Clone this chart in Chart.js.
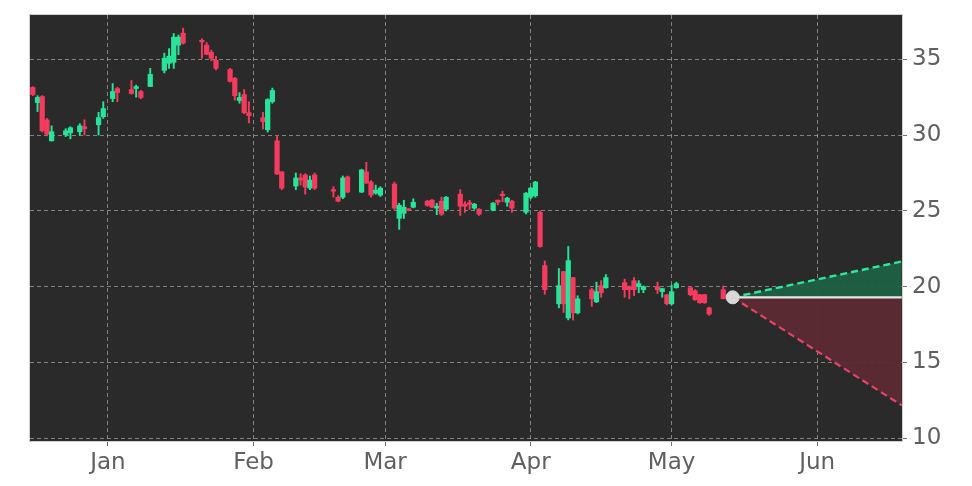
<!DOCTYPE html>
<html>
<head>
<meta charset="utf-8">
<script src="https://cdn.jsdelivr.net/npm/chart.js@4.4.1/dist/chart.umd.min.js"></script>
<style>
html,body{margin:0;padding:0;background:#ffffff;}
#wrap{width:972px;height:486px;}
</style>
</head>
<body>
<div id="wrap"><canvas id="c" width="972" height="486"></canvas></div>
<script>
const dates = ['2024-12-16','2024-12-17','2024-12-18','2024-12-19','2024-12-20',
'2024-12-23','2024-12-24','2024-12-26','2024-12-27',
'2024-12-30','2024-12-31','2025-01-02','2025-01-03',
'2025-01-06','2025-01-07','2025-01-08','2025-01-10',
'2025-01-13','2025-01-14','2025-01-15','2025-01-16','2025-01-17',
'2025-01-21','2025-01-22','2025-01-23','2025-01-24',
'2025-01-27','2025-01-28','2025-01-29','2025-01-30','2025-01-31',
'2025-02-03','2025-02-04','2025-02-05','2025-02-06','2025-02-07',
'2025-02-10','2025-02-11','2025-02-12','2025-02-13','2025-02-14',
'2025-02-18','2025-02-19','2025-02-20','2025-02-21',
'2025-02-24','2025-02-25','2025-02-26','2025-02-27','2025-02-28',
'2025-03-03','2025-03-04','2025-03-05','2025-03-06','2025-03-07',
'2025-03-10','2025-03-11','2025-03-12','2025-03-13','2025-03-14',
'2025-03-17','2025-03-18','2025-03-19','2025-03-20','2025-03-21',
'2025-03-24','2025-03-25','2025-03-26','2025-03-27','2025-03-28',
'2025-03-31','2025-04-01','2025-04-02','2025-04-03','2025-04-04',
'2025-04-07','2025-04-08','2025-04-09','2025-04-10','2025-04-11',
'2025-04-14','2025-04-15','2025-04-16','2025-04-17',
'2025-04-21','2025-04-22','2025-04-23','2025-04-24','2025-04-25',
'2025-04-28','2025-04-29','2025-04-30','2025-05-01','2025-05-02',
'2025-05-05','2025-05-06','2025-05-07','2025-05-08','2025-05-09',
'2025-05-12'];
const opens = [33.14,32.14,32.54,31.00,29.62,
30.02,30.15,30.22,30.55,
30.68,31.21,32.41,33.07,
33.00,33.07,32.87,33.20,
34.27,34.73,34.80,35.93,36.72,
36.20,35.93,35.46,34.93,
34.33,33.74,32.28,32.67,31.48,
31.15,30.35,32.21,29.62,27.57,
26.64,27.17,27.37,26.50,27.37,
26.37,25.90,25.90,27.24,
26.24,27.57,26.90,26.17,26.04,
26.77,24.51,24.84,25.11,25.24,
25.64,25.71,25.18,25.64,25.11,
26.10,25.44,25.51,25.18,25.11,
25.04,25.71,26.07,25.57,25.64,
24.91,25.90,26.00,24.91,21.39,
18.87,21.00,17.94,20.60,18.27,
19.80,19.00,20.07,19.93,
20.27,20.00,20.40,20.00,19.80,
20.00,19.67,19.47,18.87,19.93,
19.93,19.73,19.47,19.47,18.60,
19.80];
const highs = [33.20,32.60,32.60,31.10,30.61,
30.42,30.55,30.75,31.00,
31.50,32.20,33.40,33.15,
33.60,33.30,32.95,34.40,
35.40,35.70,36.70,36.60,37.05,
36.35,36.10,35.60,35.20,
34.40,33.80,32.80,33.00,32.20,
31.50,32.40,33.10,29.95,27.60,
27.50,27.45,27.45,27.30,27.50,
26.60,26.00,27.30,27.30,
27.75,28.20,27.00,26.70,26.60,
26.90,25.50,25.70,25.15,25.80,
25.70,25.75,25.50,25.90,25.95,
26.40,25.60,25.70,25.50,25.15,
25.55,25.71,26.30,25.90,25.70,
26.20,26.55,26.95,25.00,21.70,
21.20,21.00,22.65,20.60,19.40,
19.90,20.30,20.40,20.80,
20.50,20.05,20.60,20.40,20.05,
20.30,19.90,19.50,20.10,20.30,
20.00,19.80,19.50,19.50,18.65,
20.05];
const lows = [32.60,31.55,30.20,29.95,29.60,
29.90,29.75,30.00,30.00,
30.00,31.10,32.20,32.20,
32.70,32.50,32.40,33.20,
34.10,34.40,34.40,35.30,36.00,
35.07,35.30,34.90,34.30,
33.50,32.30,32.10,31.40,30.80,
30.40,30.20,32.10,27.40,26.40,
26.40,26.70,26.10,26.40,26.40,
25.90,25.60,25.80,26.20,
26.20,26.80,25.90,26.10,25.95,
25.10,23.78,24.50,25.00,25.20,
25.30,25.20,24.75,24.70,25.00,
24.70,24.90,25.10,25.10,24.70,
25.00,25.40,25.60,25.30,24.90,
24.80,25.80,25.90,22.60,19.50,
18.60,18.30,17.81,17.80,18.20,
18.70,18.95,19.30,19.90,
19.30,19.20,19.40,19.60,19.60,
19.55,19.30,18.80,18.80,19.90,
19.40,19.10,18.90,18.90,18.10,
19.20];
const closes = [32.67,32.48,30.28,30.05,30.22,
30.28,30.48,30.61,30.42,
31.15,31.75,32.87,32.80,
32.74,33.20,32.48,34.00,
35.07,35.20,36.46,36.46,36.06,
36.15,35.33,35.07,34.40,
33.54,32.60,32.48,31.48,31.28,
30.88,32.34,32.94,27.43,26.50,
27.17,27.03,26.57,27.03,26.50,
26.30,25.64,27.17,26.24,
27.70,26.83,26.04,26.37,26.50,
25.18,25.37,25.24,25.04,25.57,
25.37,25.24,25.31,24.78,25.90,
25.31,25.31,25.44,25.44,24.78,
25.51,25.57,26.00,25.84,25.18,
26.17,26.50,26.90,22.65,19.80,
20.07,18.87,21.72,18.27,19.20,
19.20,19.67,19.60,20.60,
19.80,19.80,19.80,20.20,20.00,
19.80,19.87,18.87,19.67,20.20,
19.47,19.14,18.94,18.94,18.20,
19.20];
// projection cone
const projDates = ['2025-05-14','2025-06-19'];
const projBase  = [19.30, 19.30];
const projUpper = [19.30, 21.66];
const projLower = [19.30, 12.17];
// axis ticks
const yTicks = [10, 15, 20, 25, 30, 35];
const monthTickDates = ['2025-01-01','2025-02-01','2025-03-01','2025-04-01','2025-05-01','2025-06-01'];
const monthLabels = ['Jan','Feb','Mar','Apr','May','Jun'];

const DAY = 86400000;
const ORIGIN = Date.UTC(2025,0,1);
function dayNum(s){ const p=s.split('-').map(Number); return (Date.UTC(p[0],p[1]-1,p[2])-ORIGIN)/DAY; }

const UP = '#27e49a', DOWN = '#f23b5d';
const xs = dates.map(dayNum);
const colors = opens.map((o,i)=> closes[i] >= o ? UP : DOWN);
const bodyData = xs.map((x,i)=>({x:x, y:[opens[i], closes[i]]}));
const wickData = xs.map((x,i)=>({x:x, y:[lows[i], highs[i]]}));
const px = projDates.map(dayNum);
const baseData  = px.map((x,i)=>({x:x, y:projBase[i]}));
const upperData = px.map((x,i)=>({x:x, y:projUpper[i]}));
const lowerData = px.map((x,i)=>({x:x, y:projLower[i]}));
const monthTicks = monthTickDates.map(dayNum);

const bgPlugin = {
  id:'bg',
  beforeDraw(chart){
    const {ctx, chartArea:a} = chart;
    ctx.save();
    ctx.fillStyle = '#2a2a2a';
    ctx.fillRect(a.left, a.top, a.right-a.left, a.bottom-a.top);
    ctx.restore();
  },
  afterDraw(chart){
    const {ctx, chartArea:a} = chart;
    ctx.save();
    ctx.strokeStyle = '#d0d0d0';
    ctx.lineWidth = 1;
    ctx.strokeRect(a.left-0.5, a.top-0.5, a.right-a.left+1, a.bottom-a.top+1);
    ctx.restore();
  }
};

new Chart(document.getElementById('c'), {
  data: {
    datasets: [
      {type:'line', label:'base', data: baseData, borderColor:'#e6e6e6', borderWidth:2.2, pointRadius:0, fill:false, order:3},
      {type:'line', label:'upper', data: upperData, borderColor:'#2ee6a0', borderWidth:2.4, borderDash:[7,4], pointRadius:0,
        fill:{target:0, above:'rgba(31,96,68,0.95)', below:'rgba(31,96,68,0.95)'}, backgroundColor:'rgba(31,96,68,0.95)', order:4},
      {type:'line', label:'lower', data: lowerData, borderColor:'#e8416b', borderWidth:2.2, borderDash:[7,4], pointRadius:0,
        fill:{target:0, above:'rgba(92,42,50,0.95)', below:'rgba(92,42,50,0.95)'}, backgroundColor:'rgba(92,42,50,0.95)', order:4},
      {type:'bar', label:'wick', data: wickData, backgroundColor: colors, borderWidth:0, barThickness:1.3, grouped:false, order:2},
      {type:'bar', label:'body', data: bodyData, backgroundColor: colors, borderWidth:0, barThickness:4.6, minBarLength:1.5, grouped:false, order:1},
      {type:'scatter', label:'last', data:[baseData[0]], backgroundColor:'#d8d8d8', borderColor:'#d8d8d8', pointRadius:6.5, pointHoverRadius:6.5, order:0}
    ]
  },
  options: {
    responsive:false,
    animation:false,
    devicePixelRatio:1,
    layout:{padding:{left:30, top:15, right:0, bottom:0}},
    plugins:{legend:{display:false}, tooltip:{enabled:false}},
    scales:{
      x:{
        type:'linear', min:-16.6, max:169.05, offset:false,
        afterBuildTicks(s){ s.ticks = monthTicks.map(v=>({value:v})); },
        afterFit(s){ s.height = 45; s.paddingLeft = 0; s.paddingRight = 0; },
        ticks:{ callback:(v)=>{ const i=monthTicks.indexOf(v); return i>=0?monthLabels[i]:''; },
          color:'#606060', font:{family:'DejaVu Sans', size:23}, padding:3, maxRotation:0, autoSkip:false },
        grid:{ offset:false, color:'rgba(190,190,190,0.6)', lineWidth:1, tickLength:5, tickColor:'#707070', tickBorderDash:[] },
        border:{ display:false, dash:[4,3] }
      },
      y:{
        type:'linear', position:'right', min:9.82, max:37.92,
        afterBuildTicks(s){ s.ticks = yTicks.map(v=>({value:v})); },
        afterFit(s){ s.width = 70; s.paddingTop = 0; s.paddingBottom = 0; },
        ticks:{ color:'#606060', font:{family:'DejaVu Sans', size:23}, padding:5 },
        grid:{ color:'rgba(190,190,190,0.6)', lineWidth:1, tickLength:5, tickColor:'#707070', tickBorderDash:[] },
        border:{ display:false, dash:[4,3] }
      }
    }
  },
  plugins:[bgPlugin]
});
</script>
</body>
</html>
